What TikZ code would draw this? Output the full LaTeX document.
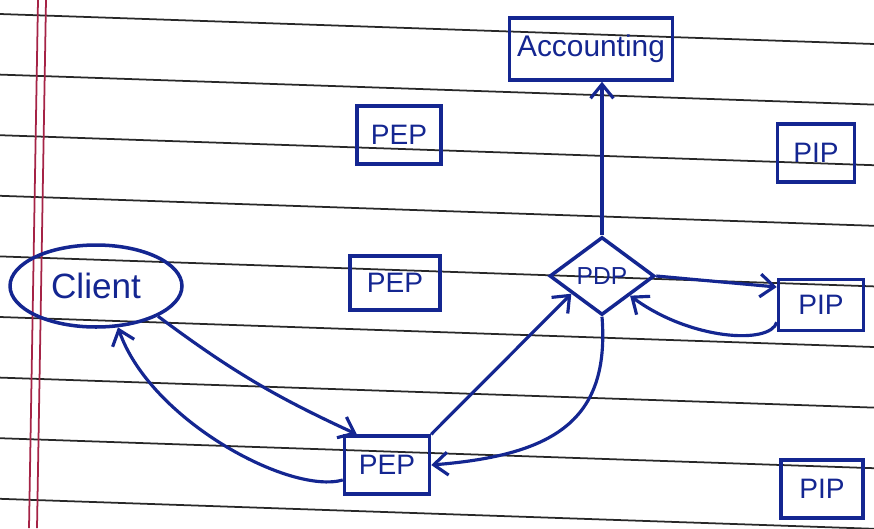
\documentclass[tikz,border=0pt]{standalone}
\usepackage{fontspec}
\setmainfont{Liberation Sans}
\usetikzlibrary{arrows.meta,shapes.geometric}
\definecolor{ink}{RGB}{20,38,145}
\definecolor{rulegray}{RGB}{40,40,40}
\definecolor{marginred}{RGB}{165,35,70}
\begin{document}
\begin{tikzpicture}[x=0.02cm,y=-0.02cm,
  box/.style={draw=ink,line width=2pt,rectangle,inner sep=0pt,text=ink,
    font=\fontsize{16}{18}\selectfont},
  flow/.style={draw=ink,line width=1.8pt,-{Straight Barb[length=8pt,width=13pt]}},
  ruleline/.style={draw=rulegray,line width=1pt},
  marginline/.style={draw=marginred,line width=1pt}]
% ruled notebook page
\fill[white] (0,0) rectangle (874,528);
\useasboundingbox (0,0) rectangle (874,528);
\foreach \k in {0,...,8}
  \draw[ruleline] (0,{14+60.6*\k}) -- (874,{44+60.6*\k});
\draw[marginline] (38,0) -- (29,528);
\draw[marginline] (46,0) -- (37,528);

% components
\node[box,minimum width=3.26cm,minimum height=1.24cm,font=\fontsize{17}{19}\selectfont]
  (acc) at (591,49) {Accounting};
\node[box,minimum width=1.68cm,minimum height=1.16cm] (pepT) at (399,135) {PEP};
\node[box,minimum width=1.8cm,minimum height=1.08cm] (pepM) at (395,283) {PEP};
\node[box,minimum width=1.7cm,minimum height=1.16cm] (pepB) at (387,465) {PEP};
\node[box,minimum width=1.54cm,minimum height=1.16cm] (pipT) at (816,153) {PIP};
\node[box,minimum width=1.7cm,minimum height=1.02cm] (pipM) at (821,305) {PIP};
\node[box,minimum width=1.64cm,minimum height=1.16cm] (pipB) at (822,489) {PIP};
\node[box,shape=diamond,minimum width=2.1cm,minimum height=1.56cm,
  font=\fontsize{14}{16}\selectfont] (pdp) at (602,276) {PDP};
\node[box,shape=ellipse,minimum width=3.44cm,minimum height=1.64cm,
  font=\fontsize{20}{22}\selectfont] (client) at (96,286) {Client};

% message flows
\draw[flow] (pdp.north) -- (pdp.north |- acc.south);
\draw[flow] (client.-26) to[bend right=6] ([xshift=0.28cm]pepB.north west);
\draw[flow] ([yshift=-0.3cm]pepB.west) .. controls (290,495) and (150,420) .. (client.-62);
\draw[flow] (pepB.north east) -- (pdp.-150);
\draw[flow] (pdp.south) .. controls (610,420) and (555,455) .. (pepB.east);
\draw[flow] (pdp.east) -- ([yshift=0.36cm]pipM.west);
\draw[flow] ([yshift=0.2cm]pipM.south west) .. controls (770,345) and (690,340) .. (pdp.-35);
\end{tikzpicture}
\end{document}
